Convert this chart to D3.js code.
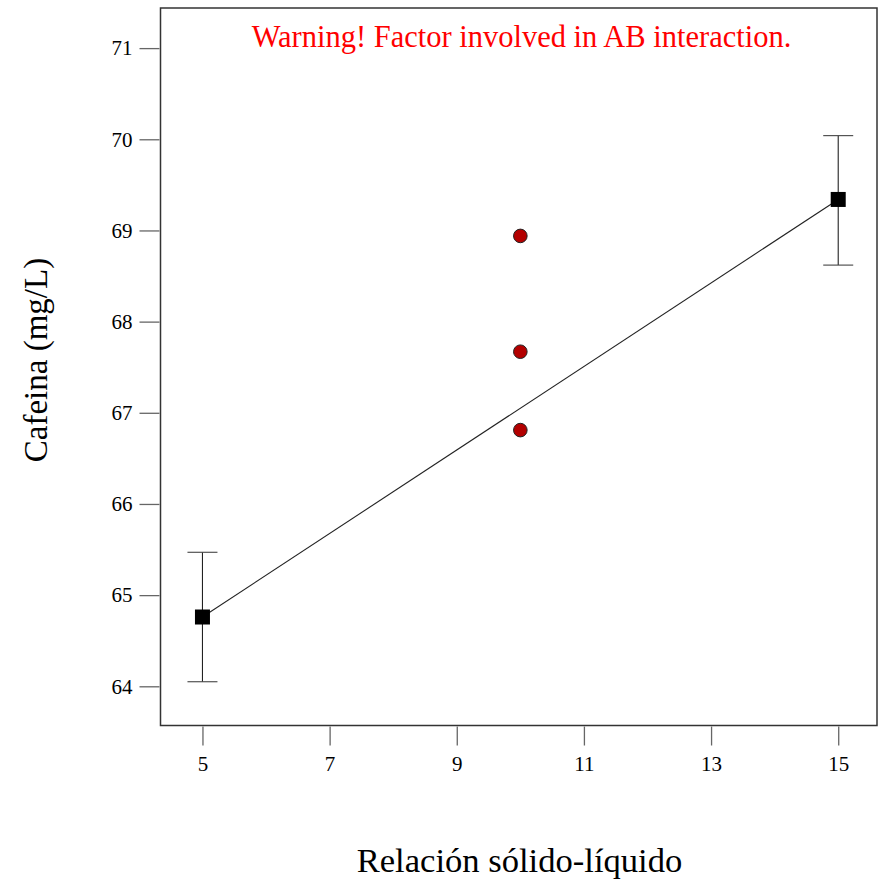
<!DOCTYPE html>
<html><head><meta charset="utf-8">
<script src="https://cdn.jsdelivr.net/npm/d3@7"></script>
<style>html,body{margin:0;padding:0;background:#fff;}</style>
</head><body>
<script>
const xTicks = [5, 7, 9, 11, 13, 15];
const yTicks = [64, 65, 66, 67, 68, 69, 70, 71];
const factorX = [5, 15];
const predicted = [64.76, 69.34];
const lowerCI = [64.05, 68.62];
const upperCI = [65.47, 70.04];
const designX = [10, 10, 10];
const designY = [68.94, 67.67, 66.81];
const warning = "Warning! Factor involved in AB interaction.";
const xTitle = "Relación sólido-líquido";
const yTitle = "Cafeina (mg/L)";

const W = 883, H = 883;
const L = 160.5, R = 877, T = 8, B = 725.5;
const FONT = "'Liberation Serif','Times New Roman',serif";
const svg = d3.select("body").append("svg").attr("width", W).attr("height", H)
  .style("font-family", FONT);

const xs = d3.scaleLinear().domain([4.34, 15.61]).range([L, R]);
const ys = d3.scaleLinear().domain([63.57, 71.44]).range([B, T]);

// frame
svg.append("rect").attr("x", L).attr("y", T).attr("width", R - L).attr("height", B - T)
  .attr("fill", "none").attr("stroke", "#333").attr("stroke-width", 1.5);

// x axis
const xa = svg.append("g").attr("transform", `translate(0,${B + 1})`)
  .call(d3.axisBottom(xs).tickValues(xTicks).tickSize(19).tickPadding(11).tickFormat(d3.format("d")));
xa.select(".domain").remove();
xa.selectAll("line").attr("stroke", "#666").attr("stroke-width", 1.3);
xa.selectAll("text").attr("font-size", 21).attr("fill", "#000").attr("font-family", FONT);

// y axis
const ya = svg.append("g").attr("transform", `translate(${L - 1},0)`)
  .call(d3.axisLeft(ys).tickValues(yTicks).tickSize(20).tickPadding(7).tickFormat(d3.format("d")));
ya.select(".domain").remove();
ya.selectAll("line").attr("stroke", "#666").attr("stroke-width", 1.3);
ya.selectAll("text").attr("font-size", 21).attr("fill", "#000").attr("font-family", FONT);

// prediction line
svg.append("path").datum(factorX.map((d, i) => [d, predicted[i]]))
  .attr("d", d3.line().x(d => xs(d[0])).y(d => ys(d[1])))
  .attr("fill", "none").attr("stroke", "#222").attr("stroke-width", 1.1);

// error bars
const eb = svg.append("g");
factorX.forEach((d, i) => {
  const cx = xs(d);
  eb.append("line").attr("x1", cx).attr("x2", cx).attr("y1", ys(lowerCI[i])).attr("y2", ys(upperCI[i]))
    .attr("stroke", "#222").attr("stroke-width", 1.1);
  [lowerCI[i], upperCI[i]].forEach(v => {
    eb.append("line").attr("x1", cx - 15).attr("x2", cx + 15).attr("y1", ys(v)).attr("y2", ys(v))
      .attr("stroke", "#444").attr("stroke-width", 1.1);
  });
});

// squares
svg.append("g").selectAll("rect").data(factorX).join("rect")
  .attr("x", d => xs(d) - 7.5).attr("y", (d, i) => ys(predicted[i]) - 7.5)
  .attr("width", 15).attr("height", 15).attr("fill", "#000");

// design points
svg.append("g").selectAll("circle").data(designX).join("circle")
  .attr("cx", d => xs(d)).attr("cy", (d, i) => ys(designY[i])).attr("r", 6.8)
  .attr("fill", "#b30000").attr("stroke", "#222").attr("stroke-width", 1);

// warning
svg.append("text").attr("x", 521.5).attr("y", 46.5).attr("text-anchor", "middle")
  .attr("font-size", 30.5).attr("fill", "#ff0000").text(warning);

// titles
svg.append("text").attr("x", 519.5).attr("y", 872).attr("text-anchor", "middle")
  .attr("font-size", 34.6).attr("fill", "#000").text(xTitle);
svg.append("text").attr("transform", "translate(47,360) rotate(-90)").attr("text-anchor", "middle")
  .attr("font-size", 33).attr("fill", "#000").text(yTitle);
</script>
</body></html>
